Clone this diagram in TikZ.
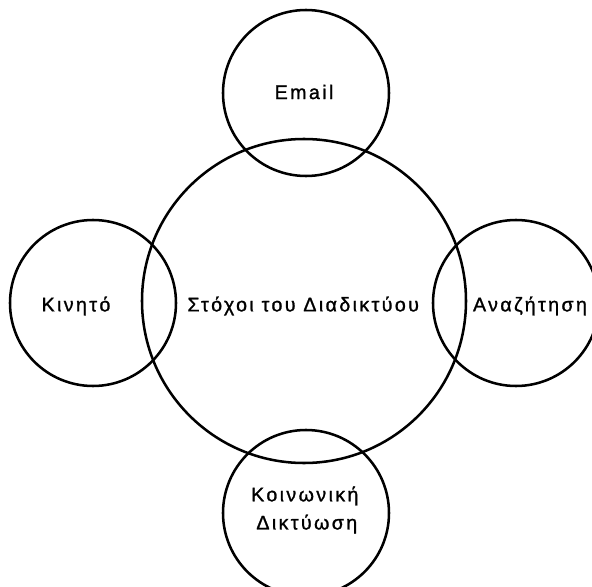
\documentclass[tikz,border=0pt]{standalone}
\usepackage{fontspec}
\newfontfamily\grfont[LetterSpace=12,FakeBold=1.2]{Liberation Sans}
\usepackage{tikz}
\usetikzlibrary{positioning}

\tikzset{
  bubble/.style={draw, circle, line width=1.8pt, inner sep=0pt},
  lbl/.style={font=\grfont\fontsize{14pt}{20pt}\selectfont, align=center}
}

\begin{document}
\begin{tikzpicture}
\useasboundingbox (0,0) rectangle (14.8,14.65);
% ---- centre ----
\node[bubble, minimum size=8.1cm] (goals) at (7.6, 7.125) {};
\node[lbl] (goalsT) at (7.58, 7.0) {Στόχοι του Διαδικτύου};
% ---- four satellites ----
\node[bubble, minimum size=4.15cm] (email)  at (7.65, 12.325) {};
\node[bubble, minimum size=4.15cm] (mobile) at (2.325, 7.075) {};
\node[bubble, minimum size=4.15cm] (search) at (12.9, 7.075) {};
\node[bubble, minimum size=4.15cm] (social) at (7.65, 1.825) {};
% ---- labels ----
\node[lbl] (emailT)  at (7.6, 12.35) {Email};
\node[lbl] (mobileT) at (1.9, 7.0) {Κινητό};
\node[lbl] (searchT) at (13.25, 7.0) {Αναζήτηση};
\node[lbl] (socialT) at (7.62, 1.9) {Κοινωνική\\ \hspace{0.1cm}Δικτύωση};
\end{tikzpicture}
\end{document}
